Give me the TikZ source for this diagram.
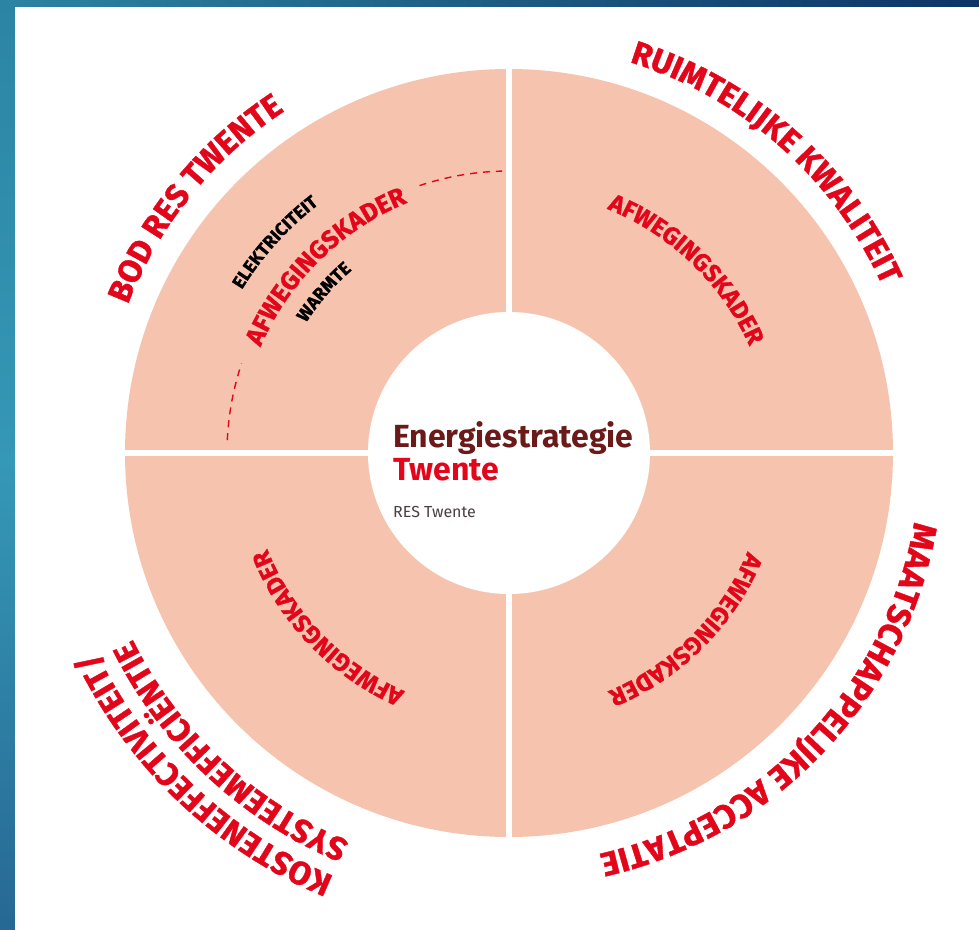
\documentclass[tikz,border=0pt]{standalone}
\usepackage{fontspec}
\setmainfont{Fira Sans}
\newfontfamily\condfont{Fira Sans}[FakeBold=1.2]
\usetikzlibrary{decorations.text}
\definecolor{tred}{HTML}{E3061B}
\definecolor{pinkf}{HTML}{F6C4AE}
\definecolor{maroon}{HTML}{6B1A1A}
\definecolor{resgray}{HTML}{4A4040}
\definecolor{blueA}{HTML}{2C84A4}
\definecolor{blueB}{HTML}{3598B6}
\definecolor{blueC}{HTML}{276894}
\definecolor{blueD}{HTML}{0E3466}
\newcommand\ttlfont{\condfont\bfseries\fontsize{32.5}{32.5}\selectfont\color{tred}}
\newcommand\ttlbfont{\condfont\bfseries\fontsize{33.5}{33.5}\selectfont\color{tred}}
\newcommand\afwfont{\condfont\bfseries\fontsize{24.5}{24.5}\selectfont\color{tred}}
\newcommand\afwbfont{\condfont\bfseries\fontsize{25.5}{25.5}\selectfont\color{tred}}
\newcommand\smlfont{\condfont\bfseries\fontsize{18}{18}\selectfont\color{black}}
\tikzset{
  arctext/.style={decorate, decoration={text along path, text align=center, text={#1}}},
  dashedarc/.style={draw=tred, line width=1.4pt, dash pattern=on 7pt off 6pt},
}
\begin{document}
\begin{tikzpicture}[x=1pt,y=1pt]
\useasboundingbox (-509,-476) rectangle (470,453);
% background
\fill[white] (-509,-476) rectangle (470,453);
\shade[top color=blueA, bottom color=blueC, middle color=blueB] (-509,-476) rectangle (-494,453);
\shade[left color=blueA, right color=blueD] (-509,446) rectangle (470,453);
% disk
\fill[pinkf] (0,0) circle[radius=384pt];
\fill[white] (-3,-392) rectangle (3,392);
\fill[white] (-392,-3) rectangle (392,3);
\fill[white] (0,0) circle[radius=141pt];
% outer titles
\path[arctext={|\ttlfont|BOD RES TWENTE}] (176:409pt) arc[start angle=176, end angle=106, radius=409pt];
\path[arctext={|\ttlfont|RUIMTELIJKE KWALITEIT}] (90:409pt) arc[start angle=90, end angle=7, radius=409pt];
\path[arctext={|\ttlbfont|MAATSCHAPPELIJKE ACCEPTATIE}] (2:411pt) arc[start angle=2, end angle=-89, radius=411pt];
\path[arctext={|\ttlfont|KOSTENEFFECTIVITEIT/}] (272:458pt) arc[start angle=272, end angle=181, radius=458pt];
\path[arctext={|\ttlfont|SYSTEEMEFFICIËNTIE}] (272:420pt) arc[start angle=272, end angle=182, radius=420pt];
% inner labels
\path[arctext={|\afwfont|AFWEGINGSKADER}] (90:263pt) arc[start angle=90, end angle=2, radius=263pt];
\path[arctext={|\afwfont|AFWEGINGSKADER}] (-1:258pt) arc[start angle=-1, end angle=-89, radius=258pt];
\path[arctext={|\afwfont|AFWEGINGSKADER}] (268:260pt) arc[start angle=268, end angle=180, radius=260pt];
\path[arctext={|\afwbfont|AFWEGINGSKADER}] (178:270pt) arc[start angle=178, end angle=91, radius=270pt];
\path[arctext={|\smlfont|ELEKTRICITEIT}] (170:313pt) arc[start angle=170, end angle=106, radius=313pt];
\path[arctext={|\smlfont|WARMTE}] (170:241pt) arc[start angle=170, end angle=108, radius=241pt];
% dashed arcs
\draw[dashedarc] (177.4:282pt) arc[start angle=177.4, end angle=161.5, radius=282pt];
\draw[dashedarc] (108.5:282pt) arc[start angle=108.5, end angle=91.4, radius=282pt];
% centre text
\node[anchor=base west, inner sep=0pt, text=maroon, font=\bfseries\fontsize{32}{32}\selectfont] (energie) at (-116,6) {Energiestrategie};
\node[anchor=base west, inner sep=0pt, text=tred, font=\bfseries\fontsize{32}{32}\selectfont] (twente) at (-116,-27) {Twente};
\node[anchor=base west, inner sep=0pt, text=resgray, font=\fontsize{16}{16}\selectfont] (res) at (-116,-64) {RES Twente};
\end{tikzpicture}
\end{document}
